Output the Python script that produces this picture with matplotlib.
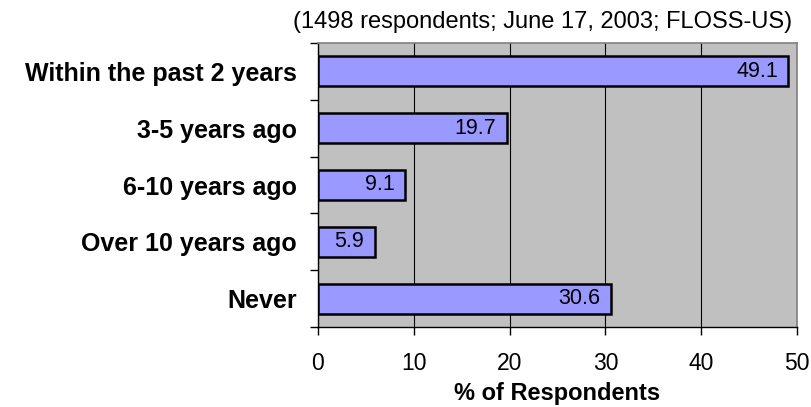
import matplotlib
matplotlib.use('Agg')
import matplotlib.pyplot as plt
import numpy as np

categories = ['Within the past 2 years', '3-5 years ago', '6-10 years ago',
              'Over 10 years ago', 'Never']
values = [49.1, 19.7, 9.1, 5.9, 30.6]
xticks = [0, 10, 20, 30, 40, 50]
note = '(1498 respondents; June 17, 2003; FLOSS-US)'

plt.rcParams['font.family'] = ['Liberation Sans', 'DejaVu Sans']

fig = plt.figure(figsize=(8.12, 4.07), dpi=100)
ax = fig.add_axes([318 / 812, 80 / 407, 479 / 812, 284 / 407])
ax.set_facecolor('#C0C0C0')

y = np.arange(len(categories))
ax.barh(y, values, height=0.53, color='#9999FF', edgecolor='black',
        linewidth=1.8, zorder=3)
for yi, v in zip(y, values):
    ax.text(v - 1.1, yi, f'{v:.1f}', ha='right', va='center',
            fontsize=15.5, zorder=4)

ax.set_xlim(0, 50)
ax.set_ylim(len(categories) - 0.5, -0.5)
ax.set_xticks(xticks)
ax.tick_params(axis='x', labelsize=16.5, length=6, width=1, pad=12,
               direction='out')
ax.set_yticks(y)
ax.set_yticklabels(categories, fontsize=18, fontweight='bold')
ax.tick_params(axis='y', length=0, pad=15)
ax.set_yticks(np.arange(len(categories) + 1) - 0.5, minor=True)
ax.tick_params(axis='y', which='minor', length=6, width=1, direction='out')

ax.grid(axis='x', color='black', linewidth=0.8, zorder=1)
ax.set_axisbelow(True)

for s in ['left', 'bottom']:
    ax.spines[s].set_color('black')
    ax.spines[s].set_linewidth(1)
for s in ['top', 'right']:
    ax.spines[s].set_color('#808080')
    ax.spines[s].set_linewidth(1.2)

ax.set_xlabel('% of Respondents', fontsize=17, fontweight='bold', labelpad=5)
ax.text(0.99, 1.035, note, transform=ax.transAxes, ha='right', va='bottom',
        fontsize=17)

fig.savefig('out.png', dpi=100)
